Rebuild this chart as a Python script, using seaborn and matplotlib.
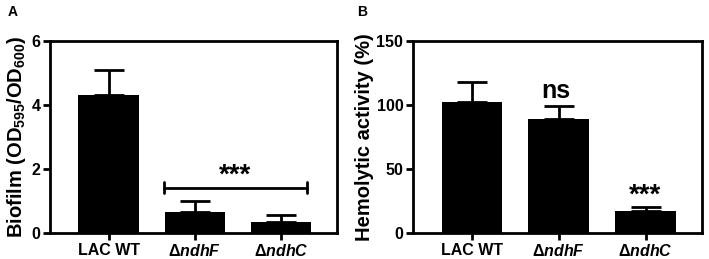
import matplotlib
matplotlib.use("Agg")
import matplotlib.pyplot as plt
import seaborn as sns
import pandas as pd

sns.set_style("ticks")
plt.rcParams['font.family'] = ['Liberation Sans', 'DejaVu Sans']
plt.rcParams['font.weight'] = 'bold'
plt.rcParams['mathtext.fontset'] = 'custom'
plt.rcParams['mathtext.rm'] = 'Liberation Sans:bold'
plt.rcParams['mathtext.bf'] = 'Liberation Sans:bold'
plt.rcParams['mathtext.it'] = 'Liberation Sans:italic:bold'
for k in ['text.color', 'axes.labelcolor', 'xtick.color', 'ytick.color', 'axes.edgecolor']:
    plt.rcParams[k] = 'black'

categories = ["LAC WT", r"Δ$\mathit{ndhF}$", r"Δ$\mathit{ndhC}$"]
biofilm_mean = [4.33, 0.66, 0.35]
biofilm_sd = [0.76, 0.35, 0.21]
hemo_mean = [102.6, 89.6, 17.1]
hemo_sd = [15.6, 9.8, 3.3]
yticks_a = [0, 2, 4, 6]
yticks_b = [0, 50, 100, 150]

fig = plt.figure(figsize=(7.09, 2.59), dpi=100)
axA = fig.add_axes([0.0705, 0.1004, 0.4045, 0.7396])
axB = fig.add_axes([0.5825, 0.1004, 0.4075, 0.7396])

def style(ax, means, sds, yticks, ylabel):
    df = pd.DataFrame({"cat": categories, "val": means})
    sns.barplot(data=df, x="cat", y="val", color="black", width=0.7,
                saturation=1, ax=ax, errorbar=None, linewidth=0)
    ax.errorbar(range(len(means)), means, yerr=[[0]*len(sds), sds], fmt="none",
                ecolor="black", elinewidth=2, capsize=11, capthick=2, zorder=1)
    ax.set_xlim(-0.68, 2.65)
    ax.set_ylim(yticks[0], yticks[-1])
    ax.set_yticks(yticks)
    ax.set_xlabel("")
    ax.set_ylabel(ylabel, fontsize=14.5, fontweight="bold", labelpad=2)
    for s in ax.spines.values():
        s.set_linewidth(2)
        s.set_visible(True)
    ax.tick_params(axis="both", direction="out", length=5, width=2, labelsize=11.5, pad=2)
    for lab in ax.get_xticklabels() + ax.get_yticklabels():
        lab.set_fontweight("bold")

style(axA, biofilm_mean, biofilm_sd, yticks_a, r"Biofilm (OD$_{\mathbf{595}}$/OD$_{\mathbf{600}}$)")
style(axB, hemo_mean, hemo_sd, yticks_b, "Hemolytic activity (%)")

# bracket in A
axA.plot([0.64, 2.30], [1.42, 1.42], color="black", lw=2)
axA.plot([0.64, 0.64], [1.25, 1.59], color="black", lw=2)
axA.plot([2.30, 2.30], [1.25, 1.59], color="black", lw=2)
axA.text(1.47, 1.38, "***", ha="center", va="bottom", fontsize=20, fontweight="bold")

axB.text(0.97, 111, "ns", ha="center", va="center", fontsize=18, fontweight="bold")
axB.text(2.0, 19, "***", ha="center", va="bottom", fontsize=20, fontweight="bold")

fig.text(0.018, 0.955, "A", fontsize=10, fontweight="bold", va="center", ha="center")
fig.text(0.511, 0.955, "B", fontsize=10, fontweight="bold", va="center", ha="center")

fig.savefig("out.png", dpi=100)
